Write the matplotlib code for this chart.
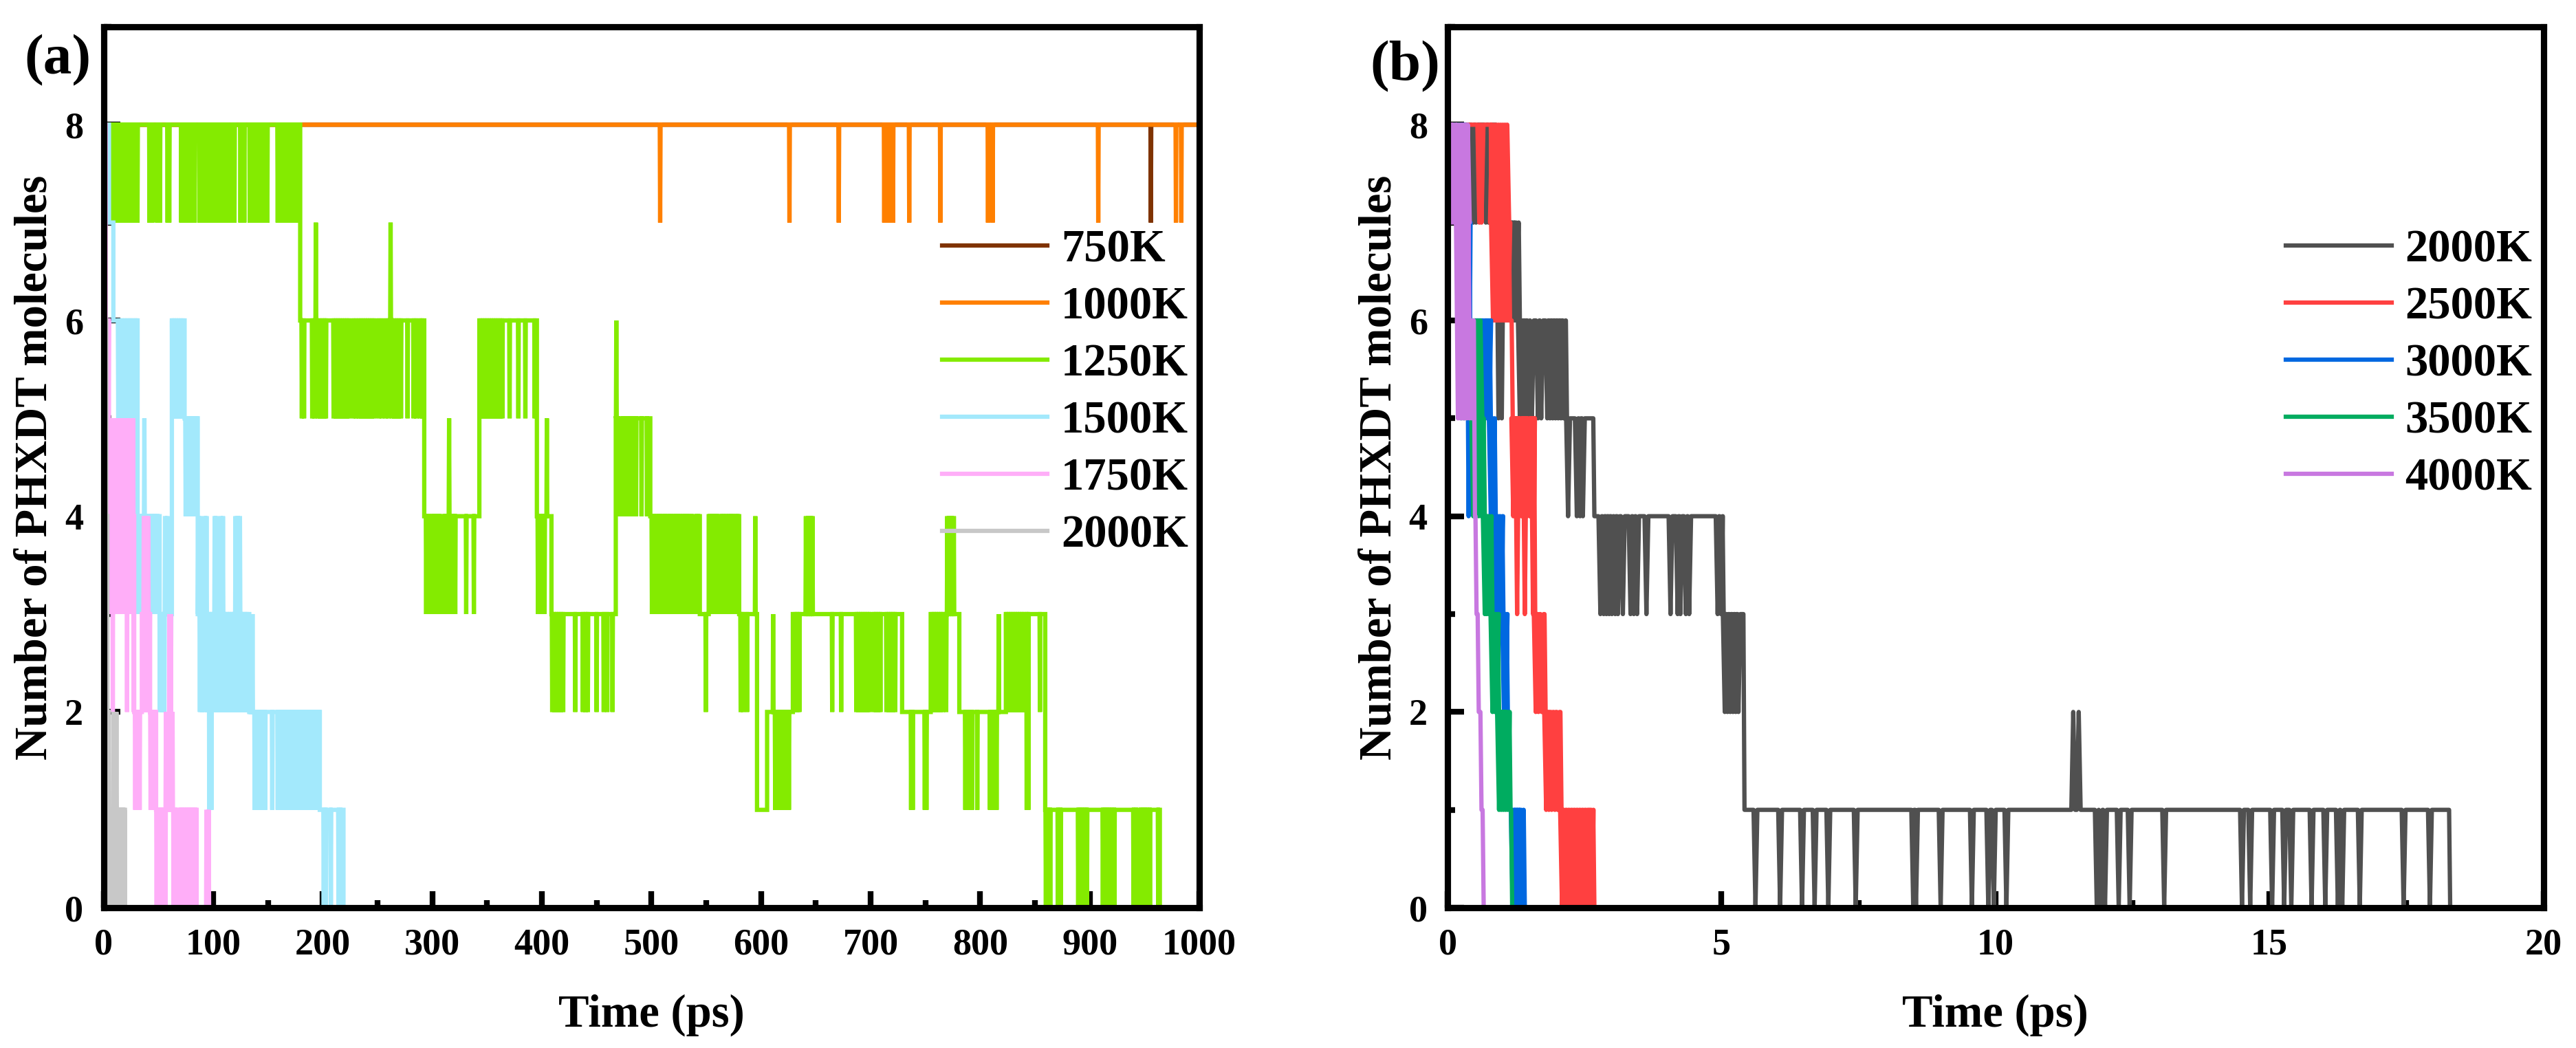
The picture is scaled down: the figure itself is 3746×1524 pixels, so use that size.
import matplotlib
matplotlib.use("Agg")
import matplotlib.pyplot as plt
from matplotlib.ticker import MultipleLocator

plt.rcParams['font.family'] = ['Liberation Serif', 'DejaVu Serif']
plt.rcParams['font.weight'] = 'bold'
plt.rcParams['axes.labelweight'] = 'bold'

# ---------------- panel (a): 0-1000 ps ----------------
# each series: level start times, levels, brief dips (-1), brief ups (+1), odd jumps (t, value)
t_750 = [0]
n_750 = [8]
dips_750 = [955.8]

t_1000 = [0]
n_1000 = [8]
dips_1000 = [508, 626, 671, 712.5, 714.5, 717.5, 720.5, 735.3, 763.7, 807.2, 811.4, 907.8, 978.7, 983.6]

t_1250 = [0, 179.5, 292.7, 343, 395.5, 408.8, 467.5, 499, 544.2, 552.3, 580.1, 596.4, 605.6,
          629.1, 728.8, 754.9, 781, 823.5, 859.4, 964]
n_1250 = [8, 6, 4, 6, 4, 3, 5, 4, 3, 4, 3, 1, 2, 3, 2, 3, 2, 3, 1, 0]
dips_1250 = [8.5, 10.5, 12.5, 14.5, 16.5, 19, 21, 23.5, 27, 29, 31, 42, 44.5, 49, 51.5, 58.5, 60,
             71, 73.5, 77, 79, 81, 83, 87.5, 89.5, 91.5, 93.5, 95.5, 97.5, 99.5, 101.5, 103.5,
             105.5, 107.5, 109.5, 111.5, 113.5, 117.5, 119.5, 125, 128.5, 133.5, 135.5, 137.5,
             139.5, 141.5, 143.5, 146.5, 149.5, 159, 161, 163, 164.5, 166.5, 168.5, 172.5, 175,
             177.5,
             181, 183, 190.5, 192.5, 195.5, 197.5, 199.5, 201.5, 203, 210, 212, 214, 216, 218,
             220, 222, 224, 228, 230.5, 233, 235, 237, 239, 241, 243, 245, 247, 251, 254, 257.5,
             260, 263.5, 265.5, 267.5, 269.5, 271.5, 277.5, 283, 285.5, 289, 291,
             294.5, 296.5, 299.5, 301.5, 303.5, 305.5, 307, 311, 313, 317, 319, 321, 331, 338,
             344, 346, 348, 350, 352, 354, 356, 358, 360, 362, 364, 370.6, 378.6, 385, 393.5,
             396.5, 398.5, 400.5, 402.5,
             409.5, 411.5, 413.5, 415.5, 417.5, 419.5, 430.5, 437.5, 440, 442, 450, 456.5,
             459.7, 464.5,
             470, 474, 476, 478, 480, 482, 484, 486, 491, 496,
             500.5, 502.5, 504.5, 506.5, 508, 510.5, 512.5, 514.5, 516.5, 518, 520.5, 522.5,
             524.5, 526, 528.5, 530.5, 532.5, 534, 537, 541, 543,
             549.7, 553, 555, 557, 559, 560.5, 564, 566, 568.5, 570.5, 572.5, 574, 577, 579,
             581.5, 583.5, 587.3,
             613, 615, 617, 619, 621, 623, 625.5,
             631, 633, 635, 665, 673.2, 687, 689, 691, 693, 695, 697, 699, 703, 705, 707, 709,
             714.5, 716.5, 718.5, 720.5, 722.5,
             737, 738.5, 749.5, 751,
             756, 758, 760, 762, 764, 766, 769,
             786.5, 788.5, 790.5, 792.5, 797.4, 809, 811, 813, 815,
             824, 826, 828, 830, 832, 834, 836, 838, 840, 854.6,
             860, 862, 864, 871, 873.5, 889.5, 891.5, 893.5, 895.5, 897.5, 912, 914, 916, 918,
             920, 922.5, 940, 942.5, 946.5, 948.5, 950.5, 952.5, 955, 962.5]
ups_1250 = [193.8, 262, 315.4, 404.6, 468, 594.8, 611.1, 641, 643, 645, 647, 770, 772, 774,
            776, 817]
jumps_1250 = [(842.5, 1), (844, 1)]

t_1500 = [0, 5, 9, 31.1, 51.2, 62.4, 74, 86, 133, 197.4, 219]
n_1500 = [8, 7, 6, 4, 3, 6, 5, 3, 2, 1, 0]
dips_1500 = [13.5, 15.5, 17.5, 19.5, 21.5, 23.5, 25, 27, 29, 30.5,
             31.5, 33.5, 35.5, 39, 41, 43.5, 45.5, 47.5, 49.5,
             51.5, 53.5, 55.5,
             62.8, 64.5, 66.5, 68.5, 70.5, 72.5,
             75, 77, 79, 81, 83, 85,
             88, 90, 92, 94.5, 101, 103, 105, 107, 109, 111, 113, 115, 117, 119, 121, 123,
             125, 127, 129, 131,
             138, 141, 143, 145, 147.5, 154, 159, 161, 163, 165, 167, 169, 171, 173, 175.5,
             178, 180, 182, 184, 186.5, 188.5, 190.5, 192.5, 194.5, 196.5,
             201, 203, 207.5, 214.5, 216.5]
ups_1500 = [37.3, 56.2, 58.3, 86.5, 88.5, 92.5, 94, 101.5, 103, 107, 109, 120.5, 122.5, 124.5,
            134, 136]
jumps_1500 = [(61.5, 2), (96.5, 1), (98.5, 1)]

t_1750 = [0, 2, 5, 28, 35, 42.5, 48, 85]
n_1750 = [8, 6, 4, 2, 3, 2, 1, 0]
dips_1750 = [2.5, 3.5, 4.5,
             6, 8, 10, 12, 14, 16, 18, 22, 24, 26,
             29, 31, 33,
             36, 38, 40, 42,
             43, 45, 47,
             48.5, 50.5, 52.5, 54.5, 56.5, 64, 66, 70, 72, 74, 76, 78, 80, 82, 84]
ups_1750 = [5.5, 7, 9, 11, 13, 15, 17, 19, 23, 25, 27, 36.8, 38.8, 40.8, 57, 59, 61, 63, 94, 96]
jumps_1750 = [(8.5, 2), (21.5, 2), (27.5, 2), (60, 3), (61.5, 3)]

t_2000a = [0, 1.5, 2.5, 3.5, 5, 19.5]
n_2000a = [8, 6, 4, 2, 1, 0]
dips_2000a = [5.5, 6.5, 7.5, 8.5, 10, 11, 12.5, 13.5, 14.5, 15.5, 16.5, 17.5, 18.5, 19.2]
ups_2000a = [9.3, 11.8]

# ---------------- panel (b): 0-20 ps ----------------
t_2000b = [0, 0.88, 1.3, 2.16, 2.66, 5.02, 5.4, 18.28]
n_2000b = [8, 7, 6, 5, 4, 3, 1, 0]
dips_2000b = [0.47, 0.52, 0.7, 0.75,
              0.9, 0.96, 1.02, 1.14, 1.18, 1.22, 1.26,
              1.32, 1.37, 1.42, 1.47, 1.54, 1.65, 1.71, 1.82, 1.87, 1.92, 1.97, 2.02, 2.07, 2.12,
              2.2, 2.36, 2.42, 2.47,
              2.79, 2.85, 2.9, 2.95, 3.0, 3.06, 3.11, 3.2, 3.34, 3.4, 3.46, 3.63, 4.07, 4.2, 4.25,
              4.35, 4.41, 4.93, 4.99,
              5.06, 5.11, 5.16, 5.21, 5.26, 5.31,
              5.62, 6.07, 6.47, 6.70, 6.95, 7.45, 8.50, 8.55, 9.00, 9.57, 9.87, 9.97, 10.20,
              11.85, 11.92, 12.0, 12.25, 12.45, 13.08, 14.50, 14.65, 15.05, 15.27, 15.40, 15.77,
              16.02, 16.25, 16.33, 16.65, 17.45, 17.93]
ups_2000b = [11.42, 11.52]
jumps_2000b = [(0.93, 5), (0.99, 5)]

t_2500 = [0, 0.79, 1.12, 1.17, 1.58, 1.77, 2.06, 2.66]
n_2500 = [8, 7, 6, 5, 3, 2, 1, 0]
dips_2500 = [0.58, 0.62,
             0.83, 0.87, 0.91, 0.95, 0.99, 1.03, 1.07, 1.11,
             1.2, 1.25, 1.3, 1.35, 1.4, 1.45, 1.5, 1.55,
             1.61, 1.66, 1.72,
             1.8, 1.85, 1.9, 1.96, 2.01,
             2.09, 2.14, 2.19, 2.24, 2.29, 2.34, 2.39, 2.44, 2.49, 2.54, 2.59, 2.63]
ups_2500 = [0.81, 0.85, 0.89, 0.93, 0.97, 1.01, 1.05, 1.09]
jumps_2500 = [(1.27, 3), (1.41, 3), (1.56, 3)]

t_3000 = [0, 0.33, 0.39, 0.77, 0.86, 1.0, 1.08, 1.12, 1.39]
n_3000 = [8, 7, 6, 5, 4, 3, 2, 1, 0]
dips_3000 = [0.68, 0.72, 0.76, 0.79, 0.83, 0.88, 0.93, 0.98, 1.03, 1.06,
             1.19, 1.23, 1.27, 1.31, 1.35]
jumps_3000 = [(0.385, 4)]

t_3500 = [0, 0.22, 0.45, 0.66, 0.8, 0.92, 1.13, 1.16]
n_3500 = [8, 6, 5, 4, 3, 2, 1, 0]
dips_3500 = [0.25, 0.3, 0.35, 0.4, 0.47, 0.52, 0.57, 0.62, 0.68, 0.72, 0.77,
             0.82, 0.86, 0.9, 0.94, 0.98, 1.02, 1.06, 1.1]
ups_3500 = [0.5, 0.55, 0.6]

t_4000 = [0, 0.15, 0.38, 0.48, 0.51, 0.55, 0.6, 0.64]
n_4000 = [8, 7, 6, 4, 3, 2, 1, 0]
dips_4000 = [0.04, 0.08, 0.12, 0.4, 0.44]
ups_4000 = [0.17, 0.21, 0.25, 0.29, 0.33, 0.37]
jumps_4000 = [(0.19, 5), (0.23, 5), (0.27, 5), (0.31, 5), (0.35, 5)]


def trace(step_t, step_n, t_end, dips=(), ups=(), jumps=(), h=0.35, ramp=0.0):
    spikes = [(t, -1, None) for t in dips] + [(t, 1, None) for t in ups] + list(
        (t, 0, v) for t, v in jumps)
    spikes.sort(key=lambda s: s[0])
    bounds = list(step_t) + [t_end]
    xs, ys = [], []
    for i, lvl in enumerate(step_n):
        a, b = bounds[i], bounds[i + 1]
        xs.append(a + (ramp if i else 0))
        ys.append(lvl)
        for t, d, v in spikes:
            if a <= t < b:
                val = lvl + d if v is None else v
                xs += [t - h, t, t + h]
                ys += [lvl, val, lvl]
        xs.append(b)
        ys.append(lvl)
    return xs, ys


fig = plt.figure(figsize=(3746 / 300, 1524 / 300), dpi=300)
W, H = 3746, 1524
ax1 = fig.add_axes([150.5 / W, 1 - 1320 / H, 1593.5 / W, 1281 / H])
ax2 = fig.add_axes([2105 / W, 1 - 1320 / H, 1593.5 / W, 1281 / H])

lw = 1.5
left_series = [
    ('750K', '#7F3300', t_750, n_750, dips_750, [], []),
    ('1000K', '#FF8000', t_1000, n_1000, dips_1000, [], []),
    ('1250K', '#84EB00', t_1250, n_1250, dips_1250, ups_1250, jumps_1250),
    ('1500K', '#A3E9FC', t_1500, n_1500, dips_1500, ups_1500, jumps_1500),
    ('1750K', '#FFAEF8', t_1750, n_1750, dips_1750, ups_1750, jumps_1750),
    ('2000K', '#C8C8C8', t_2000a, n_2000a, dips_2000a, ups_2000a, []),
]
for name, c, ts, ns, dp, up, jp in left_series:
    x, y = trace(ts, ns, 1000, dp, up, jp, h=0.35)
    ax1.plot(x, y, color=c, lw=lw, label=name, solid_joinstyle='miter')

right_series = [
    ('2000K', '#505050', t_2000b, n_2000b, dips_2000b, ups_2000b, jumps_2000b),
    ('2500K', '#FF4040', t_2500, n_2500, dips_2500, ups_2500, jumps_2500),
    ('3000K', '#0068E0', t_3000, n_3000, dips_3000, [], jumps_3000),
    ('3500K', '#00AC60', t_3500, n_3500, dips_3500, ups_3500, []),
    ('4000K', '#C878E0', t_4000, n_4000, dips_4000, ups_4000, jumps_4000),
]
for name, c, ts, ns, dp, up, jp in right_series:
    x, y = trace(ts, ns, 20, dp, up, jp, h=0.035, ramp=0.02)
    ax2.plot(x, y, color=c, lw=lw, label=name)


def style(ax, xmax, major, minor, tag, tag_xy):
    ax.set_xlim(0, xmax)
    ax.set_ylim(0, 9)
    ax.xaxis.set_major_locator(MultipleLocator(major))
    ax.xaxis.set_minor_locator(MultipleLocator(minor))
    ax.yaxis.set_major_locator(MultipleLocator(2))
    ax.yaxis.set_minor_locator(MultipleLocator(1))
    ax.tick_params(which='both', direction='in', top=False, right=False, width=2,
                   labelsize=13, pad=7)
    ax.tick_params(which='major', length=5.8)
    ax.tick_params(which='minor', length=2.6)
    for s in ax.spines.values():
        s.set_linewidth(2.2)
    ax.set_xlabel('Time (ps)', fontsize=16, labelpad=11)
    ax.set_ylabel('Number of PHXDT molecules', fontsize=16, labelpad=3)
    ax.legend(loc='upper right', bbox_to_anchor=(0.99, 0.770), frameon=False, fontsize=16,
              handlelength=2.3, handletextpad=0.3, labelspacing=0.33, borderpad=0,
              borderaxespad=0)
    ax.text(tag_xy[0], tag_xy[1], tag, transform=ax.transAxes, fontsize=20,
            fontweight='bold', ha='center', va='center')


style(ax1, 1000, 100, 50, '(a)', (-0.0417, 0.9617))
style(ax2, 20, 5, 2.5, '(b)', (-0.0389, 0.9547))

fig.savefig('out.png', dpi=300)
